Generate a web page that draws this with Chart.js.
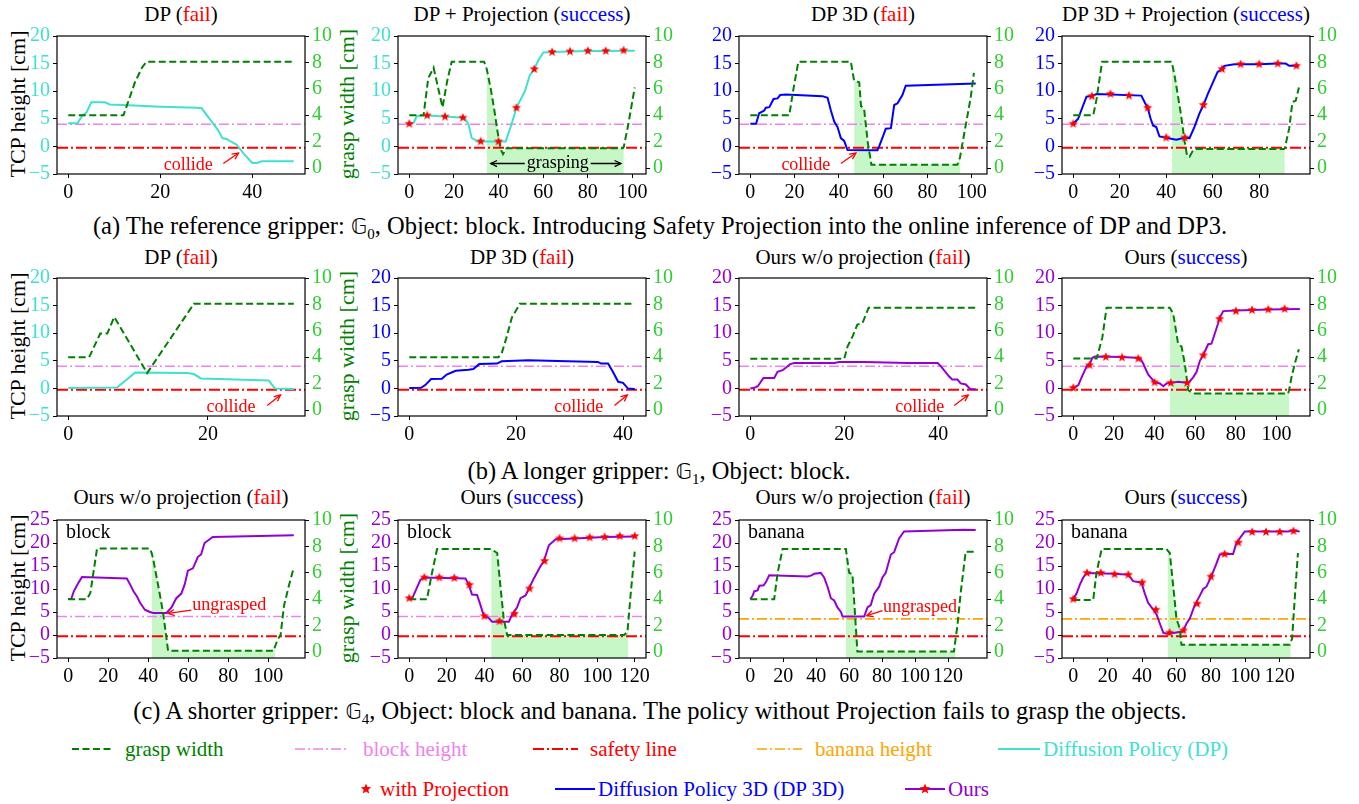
<!DOCTYPE html>
<html>
<head>
<meta charset="utf-8">
<title>Safety projection trajectories</title>
<script src="https://cdn.jsdelivr.net/npm/chart.js@4.4.0/dist/chart.umd.min.js"></script>
<style>
  body { margin: 0; background: #fff; width: 1359px; height: 804px; position: relative; overflow: hidden;
         font-family: "Liberation Serif", "Times New Roman", serif; }
  canvas { position: absolute; }
  .t { position: absolute; white-space: nowrap; transform: translate(-50%, -50%); font-size: 21px; line-height: 1; color: #000; }
  .cap { font-size: 24.5px; }
  .yl { position: absolute; white-space: nowrap; transform: translate(-50%, -50%) rotate(-90deg); font-size: 22px; line-height: 1; }
  .lg { position: absolute; white-space: nowrap; transform: translateY(-50%); font-size: 21px; line-height: 1; }
  .bb { font-family: "DejaVu Sans", sans-serif; font-size: 21px; }
  sub { font-size: 15px; }
  #legendMarks { position: absolute; left: 0; top: 0; }
</style>
</head>
<body>

<!-- panel titles -->
<div class="t" style="left:181px;top:14px">DP (<span style="color:#f00">fail</span>)</div>
<div class="t" style="left:522px;top:14px">DP + Projection (<span style="color:#00f">success</span>)</div>
<div class="t" style="left:863px;top:14px">DP 3D (<span style="color:#f00">fail</span>)</div>
<div class="t" style="left:1186px;top:14px">DP 3D + Projection (<span style="color:#00f">success</span>)</div>

<div class="t" style="left:181px;top:257px">DP (<span style="color:#f00">fail</span>)</div>
<div class="t" style="left:522px;top:257px">DP 3D (<span style="color:#f00">fail</span>)</div>
<div class="t" style="left:863px;top:257px">Ours w/o projection (<span style="color:#f00">fail</span>)</div>
<div class="t" style="left:1186px;top:257px">Ours (<span style="color:#00f">success</span>)</div>

<div class="t" style="left:181px;top:497px">Ours w/o projection (<span style="color:#f00">fail</span>)</div>
<div class="t" style="left:522px;top:497px">Ours (<span style="color:#00f">success</span>)</div>
<div class="t" style="left:863px;top:497px">Ours w/o projection (<span style="color:#f00">fail</span>)</div>
<div class="t" style="left:1186px;top:497px">Ours (<span style="color:#00f">success</span>)</div>

<!-- captions -->
<div class="t cap" style="left:660px;top:228px">(a) The reference gripper: <span class="bb">𝔾</span><sub>0</sub>, Object: block. Introducing Safety Projection into the online inference of DP and DP3.</div>
<div class="t cap" style="left:659px;top:473px">(b) A longer gripper: <span class="bb">𝔾</span><sub>1</sub>, Object: block.</div>
<div class="t cap" style="left:660px;top:713px">(c) A shorter gripper: <span class="bb">𝔾</span><sub>4</sub>, Object: block and banana. The policy without Projection fails to grasp the objects.</div>

<!-- axis titles -->
<div class="yl" style="left:18px;top:104px">TCP height [cm]</div>
<div class="yl" style="left:18px;top:346px">TCP height [cm]</div>
<div class="yl" style="left:18px;top:588px">TCP height [cm]</div>
<div class="yl" style="left:347px;top:104px;color:#008000">grasp width [cm]</div>
<div class="yl" style="left:347px;top:346px;color:#008000">grasp width [cm]</div>
<div class="yl" style="left:347px;top:588px;color:#008000">grasp width [cm]</div>

<!-- legend -->
<svg id="legendMarks" width="1359" height="804"></svg>
<div class="lg" style="left:125px;top:749px;color:#008000">grasp width</div>
<div class="lg" style="left:363px;top:749px;color:#ee82ee">block height</div>
<div class="lg" style="left:590px;top:749px;color:#ff0000">safety line</div>
<div class="lg" style="left:815px;top:749px;color:#ffa500">banana height</div>
<div class="lg" style="left:1043px;top:749px;color:#40e0d0">Diffusion Policy (DP)</div>
<div class="lg" style="left:380px;top:789px;color:#ff0000">with Projection</div>
<div class="lg" style="left:598px;top:789px;color:#0000ff">Diffusion Policy 3D (DP 3D)</div>
<div class="lg" style="left:948px;top:789px;color:#9400d3">Ours</div>

<script>
// ---- tick labels ----
const heightTicks20 = [-5, 0, 5, 10, 15, 20];
const heightTicks25 = [-5, 0, 5, 10, 15, 20, 25];
const graspTicks = [0, 2, 4, 6, 8, 10];
const stepTicks20 = [0, 20];
const stepTicks40 = [0, 20, 40];
const stepTicks80 = [0, 20, 40, 60, 80];
const stepTicks100 = [0, 20, 40, 60, 80, 100];
const stepTicks120 = [0, 20, 40, 60, 80, 100, 120];

// ---- reference heights [cm] ----
const safetyHeight = -0.25;
const blockHeight = 4;
const bananaHeight = 3.5;

// ---- (a) reference gripper ----
const a1HeightX = [0, 2, 3, 4, 5, 8, 9, 12, 20, 28, 29, 30.5, 31.5, 32.5, 33.5, 34.5, 35.5, 36.6, 38.2, 40, 41, 42, 49];
const a1HeightY = [4.2, 4.2, 5.5, 6.2, 8.0, 8.0, 7.6, 7.5, 7.2, 7.0, 6.9, 5.2, 4.1, 3.0, 1.5, 1.3, 0.8, 0.3, -1.4, -3.0, -3.0, -2.7, -2.7];
const a1GraspX = [0, 12, 13, 14.5, 16, 17, 49];
const a1GraspY = [4, 4, 5, 6.5, 7.6, 8.05, 8.05];

const a2HeightX = [0, 2, 3.4, 8, 16, 24, 25, 26.5, 28, 29.5, 30.2, 32, 40, 43.2, 45.8, 48, 51.8, 54, 56, 57.7, 60, 64, 72, 80, 88, 96, 101];
const a2HeightY = [4.1, 4.3, 5.5, 5.6, 5.4, 5.2, 5.1, 4.0, 1.5, 1.2, 0.9, 0.9, 0.9, 0.9, 4.0, 7.0, 10.0, 12.9, 14.0, 15.5, 17.0, 17.1, 17.2, 17.3, 17.3, 17.35, 17.35];
const a2StarX = [0, 8, 16, 24, 32, 40, 48, 56, 64, 72, 80, 88, 96];
const a2StarY = [4.1, 5.6, 5.4, 5.2, 0.9, 0.9, 7.0, 14.0, 17.1, 17.2, 17.3, 17.3, 17.4];
const a2GraspX = [0, 6.4, 8.5, 10.9, 13, 14.9, 17, 19, 33.5, 34.7, 36.5, 38, 39.5, 41, 42, 43.5, 95.7, 96.1, 98, 101];
const a2GraspY = [4, 4, 6.8, 7.6, 6.0, 4.6, 6.6, 8.05, 8.05, 7.5, 6.0, 4.5, 2.8, 1.4, 1.05, 1.5, 1.5, 1.6, 3.2, 6.1];
const a2Grasping = [34.7, 96.1];

const a3HeightX = [0, 2.6, 4, 6.3, 7, 8.6, 10.5, 12.3, 13.5, 16.1, 32.6, 34.9, 36.4, 37.9, 39.4, 40.9, 42.4, 43.9, 57.4, 58.2, 59.7, 61.2, 63.5, 65, 66.5, 68.7, 70.2, 101.8];
const a3HeightY = [4.1, 4.1, 6.0, 6.5, 7.0, 7.1, 8.6, 8.7, 9.3, 9.4, 9.1, 8.8, 6.5, 4.5, 3.5, 1.5, 1.0, -0.65, -0.7, 0.0, 1.6, 3.2, 3.3, 7.5, 7.8, 9.3, 11.0, 11.4];
const a3GraspX = [0, 17.6, 19.5, 21.7, 45.4, 46.9, 49.2, 50, 51.4, 53, 54.7, 93.5, 94.7, 96.5, 99.5, 101];
const a3GraspY = [4, 4, 6, 8.05, 8.05, 6.6, 6.5, 4.7, 4.5, 2.0, 0.25, 0.25, 0.8, 2.5, 5.3, 7.2];
const a3Grasping = [46.9, 94.7];

const a4HeightX = [0, 2.1, 4.3, 5.7, 8, 10, 29.3, 30.7, 32, 33.3, 34.3, 35.7, 37.1, 40, 44.3, 47.9, 50, 52.1, 54.3, 56, 57.9, 60, 62.1, 64, 65, 69.3, 80, 88, 91.4, 92.9, 97];
const a4HeightY = [4.1, 5.0, 7.5, 9.0, 9.15, 9.5, 9.2, 8.0, 7.0, 5.0, 3.8, 3.5, 1.8, 1.55, 1.2, 1.55, 1.5, 3.5, 6.0, 7.5, 9.5, 11.5, 13.5, 14.0, 14.6, 14.9, 14.9, 15.0, 15.0, 14.6, 14.6];
const a4StarX = [0, 8, 16, 24, 32, 40, 48, 56, 64, 72, 80, 88, 96];
const a4StarY = [4.1, 9.1, 9.5, 9.2, 7.0, 1.6, 1.6, 7.5, 14.0, 14.9, 14.9, 15.0, 14.6];
const a4GraspX = [0, 8.6, 10, 12.4, 42.1, 42.4, 43.6, 45, 46.4, 47.9, 49, 50, 51.4, 52.9, 90.7, 91, 92.9, 94.3, 95.7, 97.1];
const a4GraspY = [4, 4, 5.2, 8.05, 8.05, 8.0, 7.0, 5.5, 4.0, 2.0, 0.9, 0.85, 1.3, 1.45, 1.45, 1.5, 3.0, 5.0, 5.1, 6.1];
const a4Grasping = [42.4, 91];

// ---- (b) longer gripper ----
const b1HeightX = [0, 7, 9.6, 13, 17, 18, 19, 24, 28.7, 29.6, 32.3];
const b1HeightY = [0.05, 0.15, 2.9, 2.85, 2.8, 2.6, 1.8, 1.6, 1.45, 0.0, -0.1];
const b1GraspX = [0, 3, 4.6, 5.6, 6.6, 11.3, 18, 32.3];
const b1GraspY = [4, 4, 5.8, 5.8, 7.05, 2.8, 8.05, 8.05];

const b2HeightX = [0, 2.2, 3, 4.1, 6.1, 7, 8.7, 11.1, 12, 13.1, 16.4, 17.3, 22.3, 29.7, 35.3, 35.9, 37.2, 38.1, 39.1, 40, 40.9, 42.2];
const b2HeightY = [0.05, 0.1, 0.6, 1.7, 1.75, 2.5, 3.2, 3.4, 3.5, 4.4, 4.5, 4.9, 5.1, 4.9, 4.8, 4.5, 4.5, 3.0, 1.2, 1.0, 0.0, -0.1];
const b2GraspX = [0, 16.7, 17.3, 18.2, 19.2, 20.7, 42.2];
const b2GraspY = [4, 4, 4.3, 5.5, 7.0, 8.05, 8.05];

const b3HeightX = [0, 0.85, 1.6, 2.8, 5.1, 5.8, 6.9, 8.5, 9.4, 17.9, 18.9, 24.3, 33.5, 39.9, 40.6, 42.3, 43, 44.1, 44.8, 45.9, 46.8, 48];
const b3HeightY = [0.0, 0.1, 0.4, 1.9, 1.9, 3.0, 3.3, 4.4, 4.6, 4.6, 4.8, 4.8, 4.6, 4.6, 4.0, 2.2, 1.6, 1.6, 0.9, 0.7, -0.1, -0.15];
const b3GraspX = [0, 20, 20.7, 21.8, 22.8, 23.9, 25.2, 48];
const b3GraspY = [3.88, 3.88, 4.8, 5.6, 6.47, 6.6, 7.75, 7.75];

const b4HeightX = [0, 2.5, 4.1, 6.6, 8.2, 9.3, 10.7, 24, 32.8, 34.4, 36.9, 38.5, 40.2, 42.6, 44.3, 45.9, 48.4, 51.6, 56.6, 59, 60.7, 62.3, 63.9, 66.4, 68, 69.7, 71.3, 72.1, 73.8, 80, 96, 111.5];
const b4HeightY = [0.1, 0.6, 2.0, 4.0, 4.5, 5.5, 5.8, 5.7, 5.5, 4.5, 2.5, 1.8, 1.1, 0.9, 0.4, 0.9, 1.0, 1.2, 1.0, 2.0, 3.0, 5.0, 6.0, 8.0, 8.1, 10.0, 11.8, 12.8, 14.0, 14.1, 14.3, 14.4];
const b4StarX = [0, 8, 16, 24, 32, 40, 48, 56, 64, 72, 80, 88, 96, 104];
const b4StarY = [0.1, 4.2, 5.7, 5.6, 5.4, 1.1, 1.0, 1.0, 6.0, 12.6, 14.0, 14.2, 14.3, 14.4];
const b4GraspX = [0, 11.5, 14.3, 16.4, 47.5, 49.2, 51.6, 53.3, 54.9, 56.6, 57.7, 59.8, 105.7, 106.2, 107.4, 109, 111];
const b4GraspY = [3.9, 3.9, 5.5, 7.75, 7.75, 7.3, 5.0, 4.8, 3.5, 1.5, 1.4, 1.25, 1.25, 1.5, 2.5, 3.5, 4.6];
const b4Grasping = [47.5, 106.2];

// ---- (c) shorter gripper ----
const c1HeightX = [0, 1.5, 2.8, 5.3, 6.9, 29.3, 30.9, 32.6, 34.2, 35.9, 38.3, 40.8, 42.5, 49.1, 51.6, 54, 56.5, 58.2, 59.8, 62.3, 64.8, 66.4, 68.1, 72.2, 112.7];
const c1HeightY = [7.8, 7.8, 9.5, 11.5, 12.6, 12.3, 11.0, 9.5, 8.5, 7.0, 5.5, 5.0, 4.8, 4.8, 6.0, 8.0, 9.0, 11.0, 14.0, 14.5, 17.0, 17.5, 20.0, 21.3, 21.7];
const c1GraspX = [0, 9.4, 11.1, 14.4, 40.8, 41.7, 42.5, 45, 47.4, 49.9, 102.8, 103.3, 104.5, 106.1, 107.8, 110.2, 112.7];
const c1GraspY = [4, 4, 4.5, 7.84, 7.84, 7.5, 7.0, 5.0, 3.0, 0.1, 0.1, 0.4, 0.9, 1.3, 3.5, 5.0, 6.4];
const c1Grasping = [41.7, 103.3];

const c2HeightX = [0, 1.4, 3.2, 5.9, 7.6, 29.9, 31.6, 33.4, 36.1, 37.9, 39.6, 42.3, 44.1, 53, 54.8, 57.4, 59.2, 61.9, 63.6, 66.3, 69.9, 71.6, 74.3, 77.9, 88, 104, 119.6];
const c2HeightY = [7.8, 7.8, 9.5, 12.0, 12.5, 12.3, 11.0, 8.8, 8.7, 6.5, 4.3, 3.7, 2.9, 2.9, 4.5, 6.0, 8.0, 8.6, 10.0, 12.3, 15.0, 16.0, 19.5, 20.8, 21.0, 21.3, 21.4];
const c2StarX = [0, 8, 16, 24, 32, 40, 48, 56, 64, 72, 80, 88, 96, 104, 112, 120];
const c2StarY = [8.0, 12.5, 12.5, 12.4, 10.9, 4.1, 3.0, 4.6, 10.1, 16.1, 21.0, 21.0, 21.2, 21.3, 21.5, 21.5];
const c2GraspX = [0, 9.4, 12.1, 14.8, 43.6, 46.8, 48.5, 50.3, 52.1, 114.3, 116.1, 116.6, 117.9, 120];
const c2GraspY = [4, 4, 6.0, 7.8, 7.8, 7.5, 5.0, 2.5, 1.3, 1.3, 1.5, 2.3, 4.5, 7.6];
const c2Grasping = [43.6, 116.6];

const c3HeightX = [0, 1.4, 2.4, 4.4, 5.5, 8.1, 9.5, 11.5, 34.7, 36.8, 38.8, 42.8, 44.8, 46.9, 48.9, 50.9, 52.9, 55, 56, 69.1, 71.1, 73.1, 75.2, 78.2, 80.2, 82.2, 85.3, 87.3, 90.3, 93.3, 129.7, 136.8];
const c3HeightY = [7.8, 8.5, 9.5, 9.7, 10.7, 10.8, 11.5, 13.0, 12.7, 12.9, 13.3, 13.5, 12.5, 10.5, 8.0, 7.5, 6.0, 5.0, 4.0, 4.0, 6.0, 6.5, 9.0, 10.5, 12.5, 13.5, 17.5, 18.0, 21.0, 22.5, 22.9, 22.8];
const c3GraspX = [0, 14.5, 16.6, 19.6, 58, 60, 62, 64, 65, 123.6, 124.6, 125.7, 127.7, 130.7, 136.8];
const c3GraspY = [4, 4, 6.0, 7.8, 7.8, 6.0, 5.9, 2.0, 0.05, 0.05, 1.0, 2.0, 4.5, 7.6, 7.6];
const c3Grasping = [58, 124.6];

const c4HeightX = [0, 1.9, 3.9, 5.8, 7.7, 24, 31.9, 34.8, 37.7, 39.7, 41.6, 43.5, 46.5, 48.4, 50.3, 52.3, 54.2, 59, 63.9, 65.8, 67.7, 70.6, 73.5, 75.5, 77.4, 80.3, 83.2, 85.2, 89, 92.9, 94.8, 97.7, 99.7, 124.8, 127.7, 131.6];
const c4HeightY = [7.8, 9.0, 11.0, 12.5, 13.5, 13.3, 13.1, 11.7, 11.5, 11.3, 9.0, 7.0, 5.5, 4.5, 2.5, 0.5, 0.3, 0.5, 0.8, 2.5, 3.5, 6.5, 8.5, 10.0, 10.5, 12.8, 15.5, 17.5, 17.6, 17.6, 20.0, 21.5, 22.5, 22.5, 22.7, 22.5];
const c4StarX = [0, 8, 16, 24, 32, 40, 48, 56, 64, 72, 80, 88, 96, 104, 112, 120, 128];
const c4StarY = [7.8, 13.5, 13.5, 13.2, 13.1, 11.4, 5.5, 0.5, 1.0, 6.8, 12.7, 17.6, 20.1, 22.4, 22.4, 22.4, 22.6];
const c4GraspX = [0, 11.6, 13.5, 16.5, 54.2, 54.8, 56.1, 58.1, 60, 61.9, 62.9, 125.8, 126.4, 127.2, 128.7, 130.6];
const c4GraspY = [3.95, 3.95, 6.0, 7.8, 7.8, 7.7, 7.5, 5.0, 2.5, 1.8, 0.55, 0.55, 0.8, 1.0, 4.0, 7.5];
const c4Grasping = [54.8, 126.4];

// ---- styling ----
const COLORS = { dp: '#40e0d0', dp3: '#0000ff', ours: '#9400d3', grasp: '#008000', graspTick: '#32cd32',
                 block: '#ee82ee', banana: '#ffa500', safety: '#ff0000', shade: 'rgba(144, 238, 144, 0.5)' };
const SERIF = '"Liberation Serif", "Times New Roman", serif';
const colLeft = [57, 398, 739, 1062];
const rowTop = [35, 277, 519];
const BOX_W = 248, BOX_H = 139;
const PAD_L = 55, PAD_R = 45, PAD_T = 14, PAD_B = 32;

// red five-point star, used as point style
function makeStar(size, color) {
    const c = document.createElement('canvas');
    c.width = c.height = size;
    const g = c.getContext('2d');
    g.fillStyle = color;
    g.beginPath();
    for (let i = 0; i < 10; i++) {
        const r = i % 2 ? size * 0.21 : size * 0.48;
        const a = -Math.PI / 2 + i * Math.PI / 5;
        g.lineTo(size / 2 + r * Math.cos(a), size / 2 + r * Math.sin(a));
    }
    g.closePath();
    g.fill();
    return c;
}
const starImg = makeStar(10, '#ff0000');

const collide = (tx, ax0, ax1) => ({ text: 'collide', x: tx, y: -3.4, from: [ax0, -3.1], to: [ax1, -1.2] });

const panels = [
    { r: 0, c: 0, m: 'dp', hx: a1HeightX, hy: a1HeightY, gx: a1GraspX, gy: a1GraspY, xr: [-2.45, 51.45], xt: stepTicks40,
      notes: [collide(26.1, 33.7, 37.0)] },
    { r: 0, c: 1, m: 'dp', hx: a2HeightX, hy: a2HeightY, gx: a2GraspX, gy: a2GraspY, sx: a2StarX, sy: a2StarY, shade: a2Grasping,
      xr: [-5.05, 106.05], xt: stepTicks100, span: { text: 'grasping', x: 66.5, y: -3.1, left: 36.5, right: 94.8 } },
    { r: 0, c: 2, m: 'dp3', hx: a3HeightX, hy: a3HeightY, gx: a3GraspX, gy: a3GraspY, shade: a3Grasping,
      xr: [-5.1, 106.9], xt: stepTicks100, notes: [collide(25.1, 40.9, 47.7)] },
    { r: 0, c: 3, m: 'dp3', hx: a4HeightX, hy: a4HeightY, gx: a4GraspX, gy: a4GraspY, sx: a4StarX, sy: a4StarY, shade: a4Grasping,
      xr: [-4.85, 101.85], xt: stepTicks80 },

    { r: 1, c: 0, m: 'dp', hx: b1HeightX, hy: b1HeightY, gx: b1GraspX, gy: b1GraspY, xr: [-1.6, 33.9], xt: stepTicks20,
      notes: [collide(23.3, 28.5, 30.4)] },
    { r: 1, c: 1, m: 'dp3', hx: b2HeightX, hy: b2HeightY, gx: b2GraspX, gy: b2GraspY, xr: [-2.1, 44.3], xt: stepTicks40,
      notes: [collide(31.7, 38.4, 40.8)] },
    { r: 1, c: 2, m: 'ours', hx: b3HeightX, hy: b3HeightY, gx: b3GraspX, gy: b3GraspY, xr: [-2.4, 50.4], xt: stepTicks40,
      notes: [collide(36.1, 43.4, 46.4)] },
    { r: 1, c: 3, m: 'ours', hx: b4HeightX, hy: b4HeightY, gx: b4GraspX, gy: b4GraspY, sx: b4StarX, sy: b4StarY, shade: b4Grasping,
      xr: [-5.55, 116.5], xt: stepTicks100 },

    { r: 2, c: 0, m: 'ours', hx: c1HeightX, hy: c1HeightY, gx: c1GraspX, gy: c1GraspY, shade: c1Grasping, obj: 'block',
      xr: [-5.6, 118.3], xt: stepTicks100, notes: [{ text: 'ungrasped', x: 80.5, y: 6.4, from: [61.5, 5.4], to: [49.9, 4.7] }] },
    { r: 2, c: 1, m: 'ours', hx: c2HeightX, hy: c2HeightY, gx: c2GraspX, gy: c2GraspY, sx: c2StarX, sy: c2StarY, shade: c2Grasping, obj: 'block',
      xr: [-6, 126], xt: stepTicks120 },
    { r: 2, c: 2, m: 'ours', hx: c3HeightX, hy: c3HeightY, gx: c3GraspX, gy: c3GraspY, shade: c3Grasping, obj: 'banana',
      xr: [-6.85, 143.65], xt: stepTicks120, notes: [{ text: 'ungrasped', x: 103, y: 6.1, from: [80.2, 5.3], to: [70.7, 4.2] }] },
    { r: 2, c: 3, m: 'ours', hx: c4HeightX, hy: c4HeightY, gx: c4GraspX, gy: c4GraspY, sx: c4StarX, sy: c4StarY, shade: c4Grasping, obj: 'banana',
      xr: [-6.55, 137.6], xt: stepTicks120 }
];

function pts(xs, ys) {
    return xs.map((x, i) => ({ x: x, y: ys[i] }));
}
const fmt = v => (v < 0 ? '\u2212' + Math.abs(v) : String(v));

function arrowHead(ctx, x0, y0, x1, y1, len) {
    const a = Math.atan2(y1 - y0, x1 - x0);
    ctx.beginPath();
    ctx.moveTo(x1 - len * Math.cos(a - 0.45), y1 - len * Math.sin(a - 0.45));
    ctx.lineTo(x1, y1);
    ctx.lineTo(x1 - len * Math.cos(a + 0.45), y1 - len * Math.sin(a + 0.45));
    ctx.stroke();
}

function refLine(ctx, area, y, color, width, dash) {
    ctx.save();
    ctx.strokeStyle = color;
    ctx.lineWidth = width;
    ctx.setLineDash(dash);
    ctx.beginPath();
    ctx.moveTo(area.left, y);
    ctx.lineTo(area.right, y);
    ctx.stroke();
    ctx.restore();
}

// frame, reference lines and text notes of one panel
const panelDecor = {
    id: 'panelDecor',
    beforeDatasetDraw(chart, args, opts) {
        if (chart.data.datasets[args.index].label !== 'height') return;
        const ctx = chart.ctx, area = chart.chartArea, ys = chart.scales.y;
        if (opts.obj === 'banana') {
            refLine(ctx, area, ys.getPixelForValue(bananaHeight), COLORS.banana, 1.6, [10, 3, 2, 3]);
        } else {
            refLine(ctx, area, ys.getPixelForValue(blockHeight), COLORS.block, 1.5, [10, 3, 2, 3]);
        }
        refLine(ctx, area, ys.getPixelForValue(safetyHeight), COLORS.safety, 2, [11, 3, 2, 3]);
    },
    afterDraw(chart, args, opts) {
        const ctx = chart.ctx, area = chart.chartArea, xs = chart.scales.x, ys = chart.scales.y;
        ctx.save();
        ctx.strokeStyle = '#000';
        ctx.lineWidth = 1.2;
        ctx.strokeRect(area.left, area.top, area.right - area.left, area.bottom - area.top);

        ctx.font = '18px ' + SERIF;
        ctx.textAlign = 'center';
        ctx.textBaseline = 'middle';
        (opts.notes || []).forEach(n => {
            ctx.fillStyle = '#ff0000';
            ctx.strokeStyle = '#ff0000';
            ctx.lineWidth = 1.3;
            ctx.fillText(n.text, xs.getPixelForValue(n.x), ys.getPixelForValue(n.y));
            const x0 = xs.getPixelForValue(n.from[0]), y0 = ys.getPixelForValue(n.from[1]);
            const x1 = xs.getPixelForValue(n.to[0]), y1 = ys.getPixelForValue(n.to[1]);
            ctx.beginPath();
            ctx.moveTo(x0, y0);
            ctx.lineTo(x1, y1);
            ctx.stroke();
            arrowHead(ctx, x0, y0, x1, y1, 7);
        });
        if (opts.span) {
            const s = opts.span;
            const cx = xs.getPixelForValue(s.x), cy = ys.getPixelForValue(s.y);
            const w = ctx.measureText(s.text).width / 2 + 2;
            const l = xs.getPixelForValue(s.left), r = xs.getPixelForValue(s.right);
            ctx.fillStyle = '#000';
            ctx.strokeStyle = '#000';
            ctx.lineWidth = 1.3;
            ctx.fillText(s.text, cx, cy);
            ctx.beginPath();
            ctx.moveTo(cx - w, cy); ctx.lineTo(l, cy);
            ctx.moveTo(cx + w, cy); ctx.lineTo(r, cy);
            ctx.stroke();
            arrowHead(ctx, cx, cy, l, cy, 7);
            arrowHead(ctx, cx, cy, r, cy, 7);
        }
        if (opts.obj) {
            ctx.font = '20px ' + SERIF;
            ctx.textAlign = 'left';
            ctx.fillStyle = '#000';
            ctx.fillText(opts.obj, area.left + 9, area.top + 13);
        }
        ctx.restore();
    }
};

function renderPanel(p) {
    const canvas = document.createElement('canvas');
    const w = BOX_W + PAD_L + PAD_R, h = BOX_H + PAD_T + PAD_B;
    canvas.width = w;
    canvas.height = h;
    canvas.style.left = (colLeft[p.c] - PAD_L) + 'px';
    canvas.style.top = (rowTop[p.r] - PAD_T) + 'px';
    document.body.appendChild(canvas);

    const lineColor = COLORS[p.m];
    const datasets = [];
    if (p.shade) {
        datasets.push({
            label: 'shade',
            data: pts(p.gx, p.gy).filter(d => d.x >= p.shade[0] && d.x <= p.shade[1]),
            yAxisID: 'y2', fill: 'start', backgroundColor: COLORS.shade,
            borderColor: 'transparent', borderWidth: 0, pointRadius: 0, order: 5
        });
    }
    datasets.push({
        label: 'height', data: pts(p.hx, p.hy), yAxisID: 'y',
        borderColor: lineColor, borderWidth: 2, pointRadius: 0, fill: false, order: 3
    });
    datasets.push({
        label: 'grasp', data: pts(p.gx, p.gy), yAxisID: 'y2',
        borderColor: COLORS.grasp, borderWidth: 2, borderDash: [7, 3.5], pointRadius: 0, fill: false, order: 2
    });
    if (p.sx) {
        datasets.push({
            label: 'projection', data: pts(p.sx, p.sy), yAxisID: 'y', showLine: false,
            pointStyle: starImg, pointRadius: 5, order: 1
        });
    }

    const tickFont = { family: SERIF, size: 20 };
    const leftTicks = p.r === 2 ? heightTicks25 : heightTicks20;
    const grid = { drawOnChartArea: false, color: '#000', tickLength: 4, lineWidth: 1 };

    new Chart(canvas.getContext('2d'), {
        type: 'line',
        data: { datasets: datasets },
        options: {
            responsive: false,
            animation: false,
            events: [],
            devicePixelRatio: 1,
            layout: { padding: { top: PAD_T, left: 0, right: 0, bottom: 0 } },
            plugins: {
                legend: { display: false },
                tooltip: { enabled: false },
                panelDecor: { notes: p.notes, span: p.span, obj: p.obj }
            },
            scales: {
                x: {
                    type: 'linear', min: p.xr[0], max: p.xr[1],
                    afterBuildTicks: s => { s.ticks = p.xt.map(v => ({ value: v })); },
                    afterFit: s => { s.height = PAD_B; },
                    ticks: { font: tickFont, color: '#000', padding: 3, autoSkip: false, maxRotation: 0, callback: fmt },
                    grid: grid, border: { display: false }
                },
                y: {
                    type: 'linear', position: 'left', min: -5, max: p.r === 2 ? 25 : 20,
                    afterBuildTicks: s => { s.ticks = leftTicks.map(v => ({ value: v })); },
                    afterFit: s => { s.width = PAD_L; },
                    ticks: { font: tickFont, color: lineColor, padding: 3, autoSkip: false, callback: fmt },
                    grid: grid, border: { display: false }
                },
                y2: {
                    type: 'linear', position: 'right', min: -0.45, max: 10,
                    afterBuildTicks: s => { s.ticks = graspTicks.map(v => ({ value: v })); },
                    afterFit: s => { s.width = PAD_R; },
                    ticks: { font: tickFont, color: COLORS.graspTick, padding: 3, autoSkip: false, callback: fmt },
                    grid: grid, border: { display: false }
                }
            }
        },
        plugins: [panelDecor]
    });
}

panels.forEach(renderPanel);

// ---- legend glyphs ----
const svg = document.getElementById('legendMarks');
function svgEl(tag, attrs) {
    const el = document.createElementNS('http://www.w3.org/2000/svg', tag);
    Object.keys(attrs).forEach(k => el.setAttribute(k, attrs[k]));
    svg.appendChild(el);
}
function svgStar(cx, cy, r) {
    const p = [];
    for (let i = 0; i < 10; i++) {
        const rr = i % 2 ? r * 0.44 : r;
        const a = -Math.PI / 2 + i * Math.PI / 5;
        p.push((cx + rr * Math.cos(a)).toFixed(2) + ',' + (cy + rr * Math.sin(a)).toFixed(2));
    }
    svgEl('polygon', { points: p.join(' '), fill: '#ff0000' });
}
const legendRow1 = 749, legendRow2 = 789;
svgEl('line', { x1: 72, y1: legendRow1, x2: 112, y2: legendRow1, stroke: COLORS.grasp, 'stroke-width': 2, 'stroke-dasharray': '7 3.5' });
svgEl('line', { x1: 295, y1: legendRow1, x2: 349, y2: legendRow1, stroke: COLORS.block, 'stroke-width': 1.5, 'stroke-dasharray': '10 3 2 3' });
svgEl('line', { x1: 533, y1: legendRow1, x2: 578, y2: legendRow1, stroke: COLORS.safety, 'stroke-width': 2, 'stroke-dasharray': '11 3 2 3' });
svgEl('line', { x1: 757, y1: legendRow1, x2: 802, y2: legendRow1, stroke: COLORS.banana, 'stroke-width': 1.6, 'stroke-dasharray': '10 3 2 3' });
svgEl('line', { x1: 998, y1: legendRow1, x2: 1040, y2: legendRow1, stroke: COLORS.dp, 'stroke-width': 2 });
svgStar(366, legendRow2, 5.5);
svgEl('line', { x1: 555, y1: legendRow2, x2: 595, y2: legendRow2, stroke: COLORS.dp3, 'stroke-width': 2 });
svgEl('line', { x1: 905, y1: legendRow2, x2: 945, y2: legendRow2, stroke: COLORS.ours, 'stroke-width': 2 });
svgStar(925, legendRow2, 5.5);
</script>
</body>
</html>
